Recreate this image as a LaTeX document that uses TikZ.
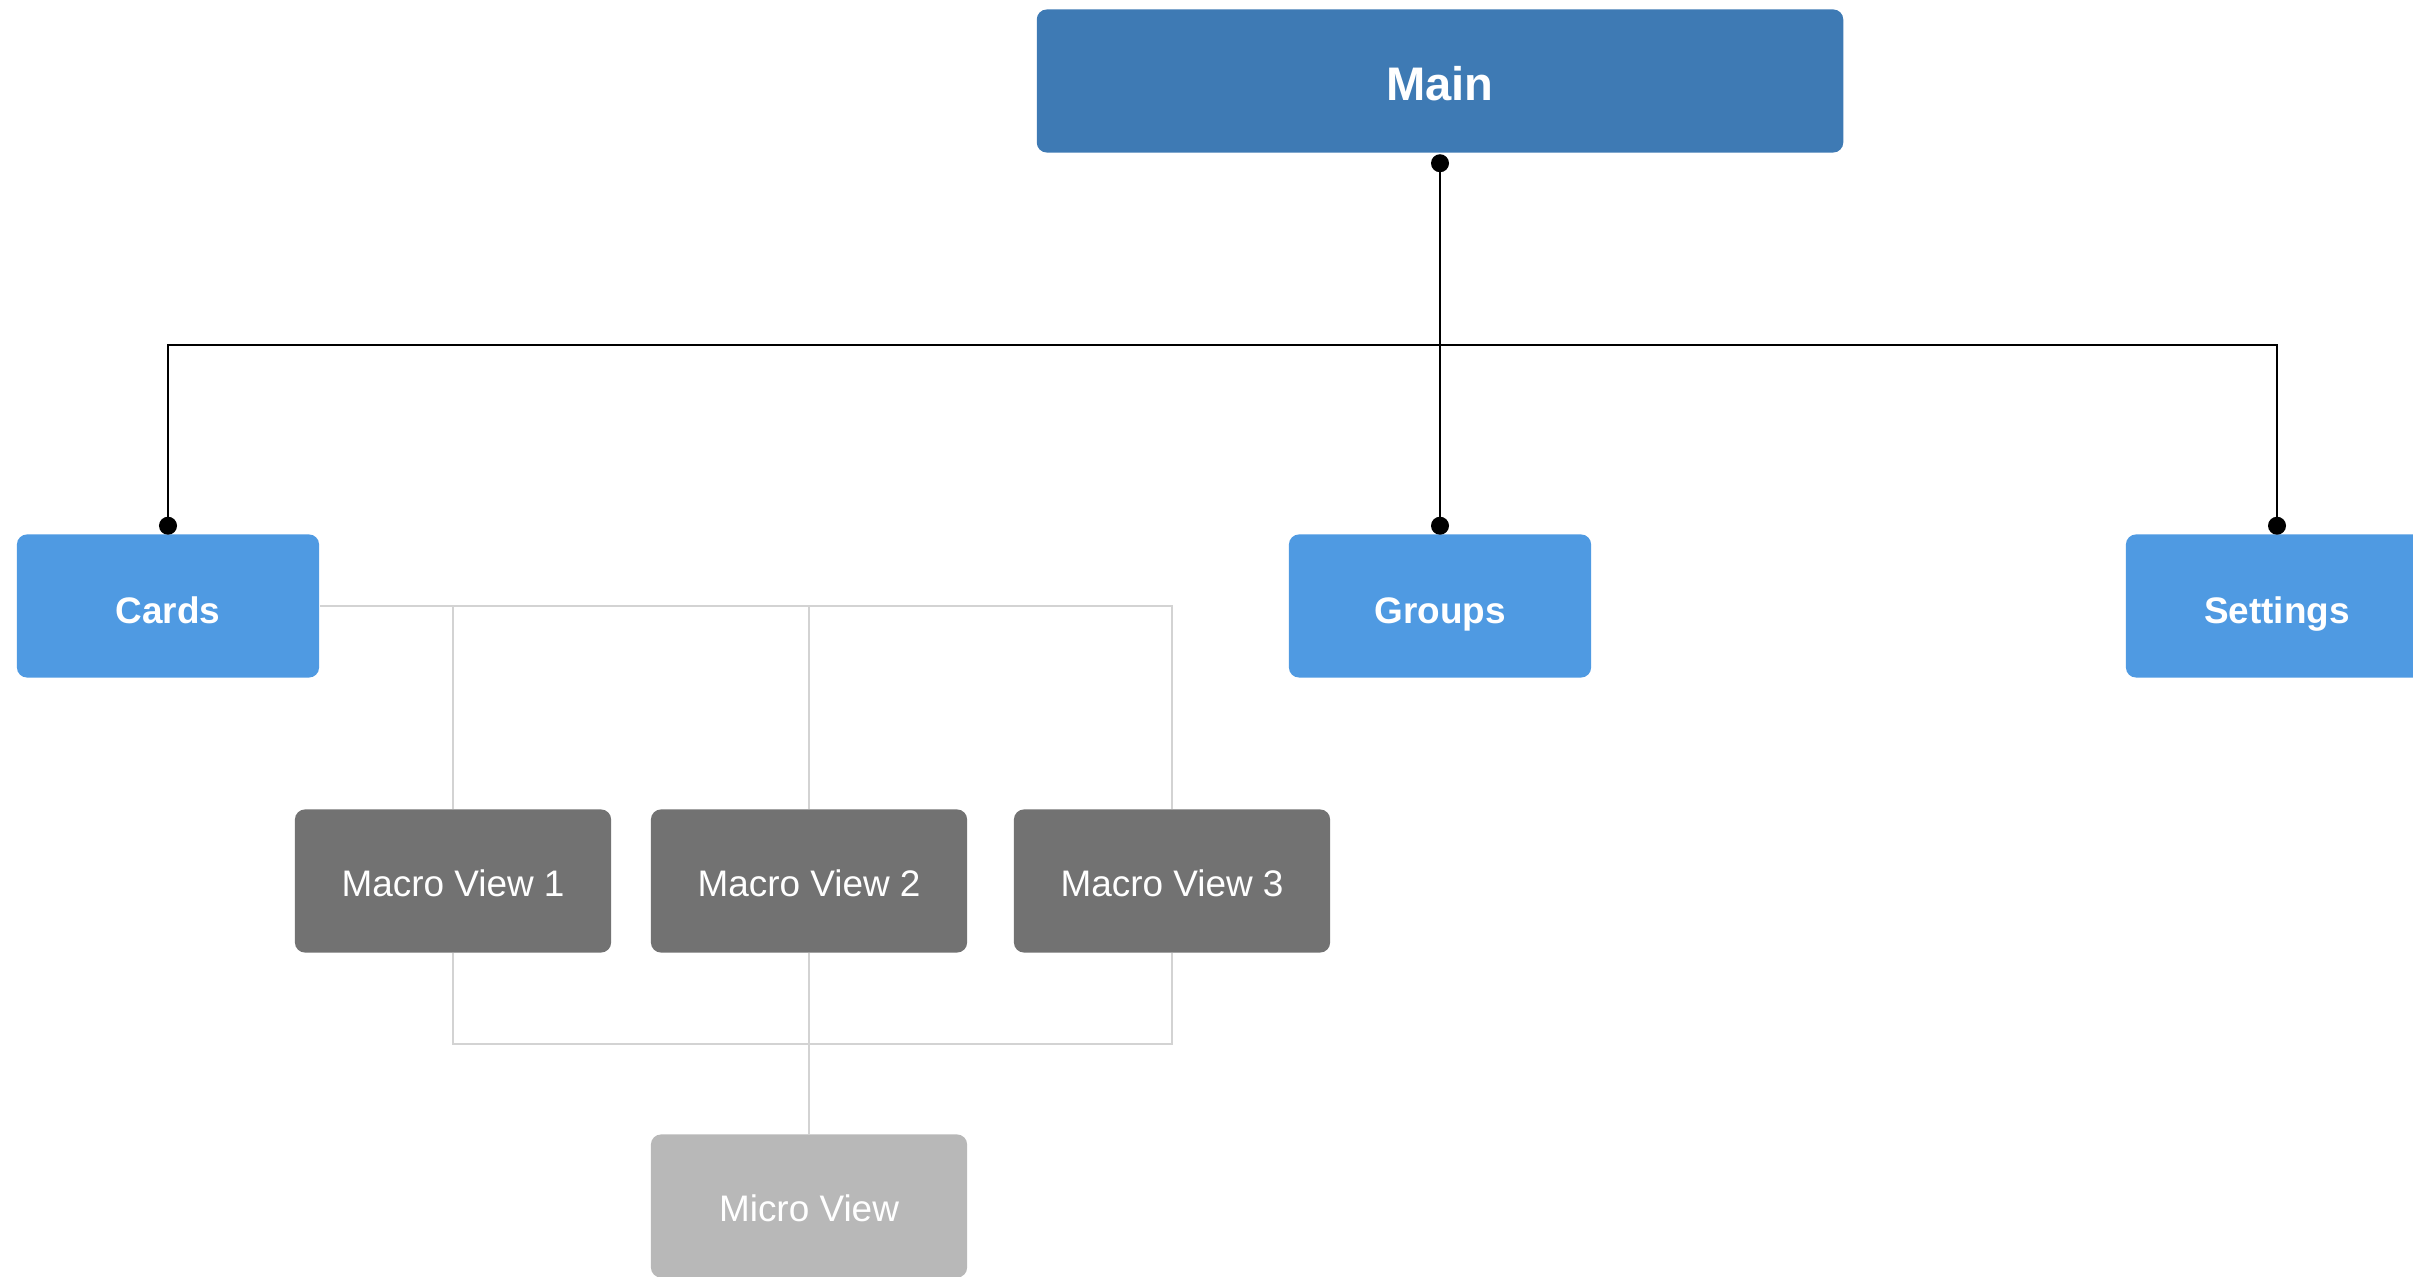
\documentclass[tikz,border=0pt]{standalone}
\usepackage{fontspec}
\setmainfont{Liberation Sans}

\definecolor{mainblue}{HTML}{3E7AB4}
\definecolor{tabblue}{HTML}{4F9AE2}
\definecolor{macrogray}{HTML}{727272}
\definecolor{microgray}{HTML}{B8B8B8}
\definecolor{linkgray}{HTML}{D3D3D3}

\tikzset{
  box/.style={rounded corners=0.1cm, inner sep=0pt, text=white,
    minimum height=1.43cm, text depth=0pt},
  mainbox/.style={box, fill=mainblue, minimum width=8.06cm,
    text height=11.3pt, font=\fontsize{13.4}{16}\selectfont\bfseries},
  tabbox/.style={box, fill=tabblue, minimum width=3.02cm,
    text height=9.8pt, font=\fontsize{10.5}{13}\selectfont\bfseries},
  macrobox/.style={box, fill=macrogray, minimum width=3.16cm,
    text height=9pt, font=\fontsize{10.5}{13}\selectfont},
  microbox/.style={macrobox, fill=microgray},
  link/.style={line width=0.8pt, black},
  sublink/.style={line width=0.6pt, linkgray},
}

\begin{document}
\begin{tikzpicture}[x=0.01cm, y=-0.01cm]
  \useasboundingbox (0,0) rectangle (2413,1277);

  % Top level
  \node[mainbox] (main) at (1440, 81) {Main};

  \node[tabbox] (cards)    at (168, 606)  {Cards};
  \node[tabbox] (groups)   at (1440, 606) {Groups};
  \node[tabbox] (settings) at (2277, 606) {Settings};

  % Views under cards
  \node[macrobox] (mv1) at (453, 881)  {Macro View 1};
  \node[macrobox] (mv2) at (809, 881)  {Macro View 2};
  \node[macrobox] (mv3) at (1172, 881) {Macro View 3};

  \node[microbox] (micro) at (809, 1206) {Micro View};

  % Connectors
  \coordinate (maindot)     at ([yshift=-0.1cm]main.south);
  \coordinate (cardsdot)    at ([yshift=0.08cm]cards.north);
  \coordinate (groupsdot)   at ([yshift=0.08cm]groups.north);
  \coordinate (settingsdot) at ([yshift=0.08cm]settings.north);
  \coordinate (bus)  at (1440, 345);
  \coordinate (join) at (809, 1044);

  \draw[link] (maindot) -- (groupsdot);
  \draw[link] (cardsdot) |- (bus) -| (settingsdot);

  \foreach \d in {maindot, cardsdot, groupsdot, settingsdot}
    \fill (\d) circle (0.09cm);

  \draw[sublink] (cards.east) -| (mv3.north);
  \draw[sublink] (mv1.north) -- (mv1.north |- cards.east);
  \draw[sublink] (mv2.north) -- (mv2.north |- cards.east);

  \draw[sublink] (mv1.south) |- (join) -| (mv3.south);
  \draw[sublink] (mv2.south) -- (micro.north);

\end{tikzpicture}
\end{document}
